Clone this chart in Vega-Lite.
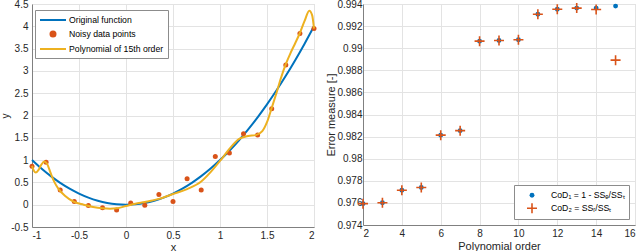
{
  "$schema": "https://vega.github.io/schema/vega-lite/v6.json",
  "background": "white",
  "padding": {"left": 0, "top": -2, "right": 0, "bottom": 0},
  "spacing": 6,
  "config": {
    "view": {"stroke": "#d9d9d9"},
    "font": "Liberation Sans",
    "axis": {
      "domainColor": "#808080",
      "ticks": false,
      "labelFont": "Liberation Sans",
      "labelFontSize": 10,
      "labelColor": "#262626",
      "labelExpr": "replace(datum.label, '−', '-')",
      "titleFont": "Liberation Sans",
      "titleFontSize": 11,
      "titleFontWeight": "normal",
      "titleColor": "#262626",
      "gridColor": "#e3e3e3",
      "gridOpacity": 1
    },
    "legend": {
      "labelFont": "Liberation Sans",
      "labelFontSize": 8.7,
      "labelColor": "#000000",
      "labelLimit": 0,
      "fillColor": "#ffffff",
      "strokeColor": "#8c8c8c",
      "cornerRadius": 0,
      "padding": 4,
      "rowPadding": 2
    }
  },
  "datasets": {
    "left": [
      {"series": "Original function", "x": -1.0, "y": 1.0},
      {"series": "Original function", "x": -0.9, "y": 0.81},
      {"series": "Original function", "x": -0.8, "y": 0.64},
      {"series": "Original function", "x": -0.7, "y": 0.49},
      {"series": "Original function", "x": -0.6, "y": 0.36},
      {"series": "Original function", "x": -0.5, "y": 0.25},
      {"series": "Original function", "x": -0.4, "y": 0.16},
      {"series": "Original function", "x": -0.3, "y": 0.09},
      {"series": "Original function", "x": -0.2, "y": 0.04},
      {"series": "Original function", "x": -0.1, "y": 0.01},
      {"series": "Original function", "x": 0.0, "y": 0.0},
      {"series": "Original function", "x": 0.1, "y": 0.01},
      {"series": "Original function", "x": 0.2, "y": 0.04},
      {"series": "Original function", "x": 0.3, "y": 0.09},
      {"series": "Original function", "x": 0.4, "y": 0.16},
      {"series": "Original function", "x": 0.5, "y": 0.25},
      {"series": "Original function", "x": 0.6, "y": 0.36},
      {"series": "Original function", "x": 0.7, "y": 0.49},
      {"series": "Original function", "x": 0.8, "y": 0.64},
      {"series": "Original function", "x": 0.9, "y": 0.81},
      {"series": "Original function", "x": 1.0, "y": 1.0},
      {"series": "Original function", "x": 1.1, "y": 1.21},
      {"series": "Original function", "x": 1.2, "y": 1.44},
      {"series": "Original function", "x": 1.3, "y": 1.69},
      {"series": "Original function", "x": 1.4, "y": 1.96},
      {"series": "Original function", "x": 1.5, "y": 2.25},
      {"series": "Original function", "x": 1.6, "y": 2.56},
      {"series": "Original function", "x": 1.7, "y": 2.89},
      {"series": "Original function", "x": 1.8, "y": 3.24},
      {"series": "Original function", "x": 1.9, "y": 3.61},
      {"series": "Original function", "x": 2.0, "y": 4.0},
      {"series": "Noisy data points", "x": -1.0, "y": 0.86},
      {"series": "Noisy data points", "x": -0.85, "y": 0.95},
      {"series": "Noisy data points", "x": -0.7, "y": 0.33},
      {"series": "Noisy data points", "x": -0.55, "y": 0.07},
      {"series": "Noisy data points", "x": -0.4, "y": -0.02},
      {"series": "Noisy data points", "x": -0.25, "y": -0.07},
      {"series": "Noisy data points", "x": -0.1, "y": -0.12},
      {"series": "Noisy data points", "x": 0.05, "y": 0.04},
      {"series": "Noisy data points", "x": 0.2, "y": -0.01},
      {"series": "Noisy data points", "x": 0.35, "y": 0.23},
      {"series": "Noisy data points", "x": 0.5, "y": 0.07},
      {"series": "Noisy data points", "x": 0.65, "y": 0.58},
      {"series": "Noisy data points", "x": 0.8, "y": 0.33},
      {"series": "Noisy data points", "x": 0.95, "y": 1.08},
      {"series": "Noisy data points", "x": 1.1, "y": 1.16},
      {"series": "Noisy data points", "x": 1.25, "y": 1.59},
      {"series": "Noisy data points", "x": 1.4, "y": 1.56},
      {"series": "Noisy data points", "x": 1.55, "y": 2.15},
      {"series": "Noisy data points", "x": 1.7, "y": 3.13},
      {"series": "Noisy data points", "x": 1.85, "y": 3.84},
      {"series": "Noisy data points", "x": 2.0, "y": 3.95},
      {"series": "Polynomial of 15th order", "x": -1.0, "y": 0.87},
      {"series": "Polynomial of 15th order", "x": -0.98, "y": 0.76},
      {"series": "Polynomial of 15th order", "x": -0.96, "y": 0.72},
      {"series": "Polynomial of 15th order", "x": -0.93, "y": 0.78},
      {"series": "Polynomial of 15th order", "x": -0.9, "y": 0.9},
      {"series": "Polynomial of 15th order", "x": -0.87, "y": 0.97},
      {"series": "Polynomial of 15th order", "x": -0.84, "y": 0.92},
      {"series": "Polynomial of 15th order", "x": -0.8, "y": 0.7},
      {"series": "Polynomial of 15th order", "x": -0.76, "y": 0.5},
      {"series": "Polynomial of 15th order", "x": -0.72, "y": 0.36},
      {"series": "Polynomial of 15th order", "x": -0.65, "y": 0.2},
      {"series": "Polynomial of 15th order", "x": -0.55, "y": 0.06},
      {"series": "Polynomial of 15th order", "x": -0.45, "y": 0.0},
      {"series": "Polynomial of 15th order", "x": -0.35, "y": -0.05},
      {"series": "Polynomial of 15th order", "x": -0.25, "y": -0.08},
      {"series": "Polynomial of 15th order", "x": -0.17, "y": -0.09},
      {"series": "Polynomial of 15th order", "x": -0.1, "y": -0.08},
      {"series": "Polynomial of 15th order", "x": 0.0, "y": -0.03},
      {"series": "Polynomial of 15th order", "x": 0.1, "y": 0.02},
      {"series": "Polynomial of 15th order", "x": 0.2, "y": 0.06},
      {"series": "Polynomial of 15th order", "x": 0.35, "y": 0.13},
      {"series": "Polynomial of 15th order", "x": 0.5, "y": 0.24},
      {"series": "Polynomial of 15th order", "x": 0.65, "y": 0.35},
      {"series": "Polynomial of 15th order", "x": 0.8, "y": 0.52},
      {"series": "Polynomial of 15th order", "x": 0.9, "y": 0.73},
      {"series": "Polynomial of 15th order", "x": 1.0, "y": 0.98},
      {"series": "Polynomial of 15th order", "x": 1.1, "y": 1.25},
      {"series": "Polynomial of 15th order", "x": 1.2, "y": 1.47},
      {"series": "Polynomial of 15th order", "x": 1.3, "y": 1.54},
      {"series": "Polynomial of 15th order", "x": 1.38, "y": 1.56},
      {"series": "Polynomial of 15th order", "x": 1.45, "y": 1.65},
      {"series": "Polynomial of 15th order", "x": 1.5, "y": 1.85},
      {"series": "Polynomial of 15th order", "x": 1.55, "y": 2.17},
      {"series": "Polynomial of 15th order", "x": 1.6, "y": 2.5},
      {"series": "Polynomial of 15th order", "x": 1.65, "y": 2.85},
      {"series": "Polynomial of 15th order", "x": 1.7, "y": 3.15},
      {"series": "Polynomial of 15th order", "x": 1.75, "y": 3.4},
      {"series": "Polynomial of 15th order", "x": 1.8, "y": 3.62},
      {"series": "Polynomial of 15th order", "x": 1.85, "y": 3.85},
      {"series": "Polynomial of 15th order", "x": 1.9, "y": 4.12},
      {"series": "Polynomial of 15th order", "x": 1.95, "y": 4.35},
      {"series": "Polynomial of 15th order", "x": 1.98, "y": 4.25},
      {"series": "Polynomial of 15th order", "x": 2.0, "y": 3.95}
    ],
    "right": [
      {"series": "CoD₁ = 1 - SSₑ/SSₜ", "order": 2, "value": 0.97593},
      {"series": "CoD₁ = 1 - SSₑ/SSₜ", "order": 3, "value": 0.97602},
      {"series": "CoD₁ = 1 - SSₑ/SSₜ", "order": 4, "value": 0.97715},
      {"series": "CoD₁ = 1 - SSₑ/SSₜ", "order": 5, "value": 0.9774},
      {"series": "CoD₁ = 1 - SSₑ/SSₜ", "order": 6, "value": 0.98213},
      {"series": "CoD₁ = 1 - SSₑ/SSₜ", "order": 7, "value": 0.98254},
      {"series": "CoD₁ = 1 - SSₑ/SSₜ", "order": 8, "value": 0.99064},
      {"series": "CoD₁ = 1 - SSₑ/SSₜ", "order": 9, "value": 0.9907},
      {"series": "CoD₁ = 1 - SSₑ/SSₜ", "order": 10, "value": 0.99076},
      {"series": "CoD₁ = 1 - SSₑ/SSₜ", "order": 11, "value": 0.99307},
      {"series": "CoD₁ = 1 - SSₑ/SSₜ", "order": 12, "value": 0.99353},
      {"series": "CoD₁ = 1 - SSₑ/SSₜ", "order": 13, "value": 0.99363},
      {"series": "CoD₁ = 1 - SSₑ/SSₜ", "order": 14, "value": 0.99363},
      {"series": "CoD₁ = 1 - SSₑ/SSₜ", "order": 15, "value": 0.99381},
      {"series": "CoD₂ = SSᵣ/SSₜ", "order": 2, "value": 0.97593},
      {"series": "CoD₂ = SSᵣ/SSₜ", "order": 3, "value": 0.97602},
      {"series": "CoD₂ = SSᵣ/SSₜ", "order": 4, "value": 0.97715},
      {"series": "CoD₂ = SSᵣ/SSₜ", "order": 5, "value": 0.9774},
      {"series": "CoD₂ = SSᵣ/SSₜ", "order": 6, "value": 0.98213},
      {"series": "CoD₂ = SSᵣ/SSₜ", "order": 7, "value": 0.98254},
      {"series": "CoD₂ = SSᵣ/SSₜ", "order": 8, "value": 0.99064},
      {"series": "CoD₂ = SSᵣ/SSₜ", "order": 9, "value": 0.9907},
      {"series": "CoD₂ = SSᵣ/SSₜ", "order": 10, "value": 0.99076},
      {"series": "CoD₂ = SSᵣ/SSₜ", "order": 11, "value": 0.99307},
      {"series": "CoD₂ = SSᵣ/SSₜ", "order": 12, "value": 0.99353},
      {"series": "CoD₂ = SSᵣ/SSₜ", "order": 13, "value": 0.99363},
      {"series": "CoD₂ = SSᵣ/SSₜ", "order": 14, "value": 0.9935},
      {"series": "CoD₂ = SSᵣ/SSₜ", "order": 15, "value": 0.98892}
    ]
  },
  "hconcat": [
    {
      "width": 282,
      "height": 223,
      "data": {"name": "left"},
      "encoding": {
        "x": {"field": "x", "type": "quantitative", "scale": {"domain": [-1, 2], "nice": false}, "axis": {"title": "x", "values": [-1, -0.5, 0, 0.5, 1, 1.5, 2], "format": "~g", "labelPadding": 3, "titlePadding": 1}},
        "y": {"field": "y", "type": "quantitative", "scale": {"domain": [-0.5, 4.5], "nice": false, "zero": false}, "axis": {"title": "y", "titleFontSize": 10, "values": [-0.5, 0, 0.5, 1, 1.5, 2, 2.5, 3, 3.5, 4, 4.5], "format": "~g", "labelPadding": 4, "titlePadding": 0}}
      },
      "layer": [
        {
          "transform": [{"filter": "datum.series === 'Original function'"}],
          "mark": {"type": "line", "strokeWidth": 2, "interpolate": "monotone"},
          "encoding": {
            "color": {
              "field": "series", "type": "nominal",
              "scale": {"domain": ["Original function", "Noisy data points", "Polynomial of 15th order"], "range": ["#0072BD", "#D95319", "#EDB120"]},
              "legend": {
                "title": null, "orient": "none", "legendX": 3, "legendY": 6,
                "symbolSize": 100, "symbolOffset": 8, "labelOffset": 10,
                "encode": {"symbols": {"update": {
                  "shape": {"signal": "datum.value === 'Noisy data points' ? 'circle' : 'M-2.6,0L2.6,0'"},
                  "size": {"signal": "datum.value === 'Noisy data points' ? 25 : 100"},
                  "fill": {"signal": "datum.value === 'Noisy data points' ? '#D95319' : 'transparent'"},
                  "stroke": {"signal": "datum.value === 'Original function' ? '#0072BD' : (datum.value === 'Polynomial of 15th order' ? '#EDB120' : 'transparent')"},
                  "strokeWidth": {"value": 2},
                  "opacity": {"value": 1}
                }}}
              }
            }
          }
        },
        {
          "transform": [{"filter": "datum.series === 'Noisy data points'"}],
          "mark": {"type": "point", "filled": true, "size": 25, "opacity": 1},
          "encoding": {"color": {"field": "series", "type": "nominal"}}
        },
        {
          "transform": [{"filter": "datum.series === 'Polynomial of 15th order'"}],
          "mark": {"type": "line", "strokeWidth": 2, "interpolate": "monotone"},
          "encoding": {"color": {"field": "series", "type": "nominal"}}
        }
      ]
    },
    {
      "width": 272,
      "height": 221,
      "data": {"name": "right"},
      "mark": {"type": "point", "strokeWidth": 1.6, "opacity": 1},
      "encoding": {
        "x": {"field": "order", "type": "quantitative", "scale": {"domain": [2, 16], "nice": false}, "axis": {"title": "Polynomial order", "values": [2, 4, 6, 8, 10, 12, 14, 16], "labelPadding": 3, "titlePadding": 2}},
        "y": {"field": "value", "type": "quantitative", "scale": {"domain": [0.974, 0.994], "nice": false, "zero": false}, "axis": {"title": "Error measure [-]", "values": [0.974, 0.976, 0.978, 0.98, 0.982, 0.984, 0.986, 0.988, 0.99, 0.992, 0.994], "format": ".3~f", "labelPadding": 1, "titlePadding": 0}},
        "fill": {
          "field": "series", "type": "nominal",
          "scale": {"domain": ["CoD₁ = 1 - SSₑ/SSₜ", "CoD₂ = SSᵣ/SSₜ"], "range": ["#0072BD", "transparent"]},
          "legend": {"title": null, "orient": "bottom-right", "offset": 6, "symbolOffset": 8, "labelOffset": 13, "rowPadding": 0, "clipHeight": 12.5, "symbolStrokeWidth": 1.6}
        },
        "stroke": {
          "field": "series", "type": "nominal",
          "scale": {"domain": ["CoD₁ = 1 - SSₑ/SSₜ", "CoD₂ = SSᵣ/SSₜ"], "range": ["transparent", "#D95319"]},
          "legend": {"title": null, "orient": "bottom-right", "offset": 6, "symbolOffset": 8, "labelOffset": 13, "rowPadding": 0, "clipHeight": 12.5, "symbolStrokeWidth": 1.6}
        },
        "shape": {
          "field": "series", "type": "nominal",
          "scale": {"domain": ["CoD₁ = 1 - SSₑ/SSₜ", "CoD₂ = SSᵣ/SSₜ"], "range": ["circle", "M-1,0L1,0M0,-1L0,1"]},
          "legend": {"title": null, "orient": "bottom-right", "offset": 6, "symbolOffset": 8, "labelOffset": 13, "rowPadding": 0, "clipHeight": 12.5, "symbolStrokeWidth": 1.6}
        },
        "size": {
          "field": "series", "type": "nominal",
          "scale": {"domain": ["CoD₁ = 1 - SSₑ/SSₜ", "CoD₂ = SSᵣ/SSₜ"], "range": [24, 100]},
          "legend": {"title": null, "orient": "bottom-right", "offset": 6, "symbolOffset": 8, "labelOffset": 13, "rowPadding": 0, "clipHeight": 12.5, "symbolStrokeWidth": 1.6}
        }
      }
    }
  ],
  "resolve": {
    "scale": {"color": "independent", "fill": "independent", "stroke": "independent", "shape": "independent", "size": "independent"},
    "legend": {"color": "independent", "fill": "independent", "stroke": "independent", "shape": "independent", "size": "independent"}
  }
}
